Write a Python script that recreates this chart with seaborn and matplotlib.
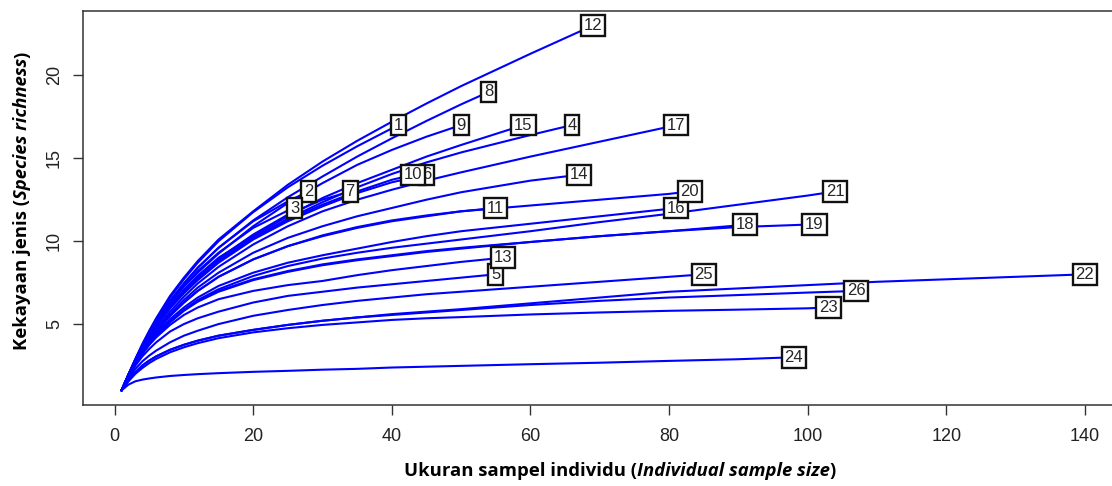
import matplotlib
matplotlib.use("Agg")
import matplotlib.pyplot as plt
import matplotlib.transforms as mtransforms
import seaborn as sns
import pandas as pd

steps = [1, 2, 3, 4, 5, 6, 8, 10, 12, 15, 20, 25, 30, 35, 40, 45, 50,
         60, 70, 80, 90, 100, 110, 120, 130, 140]

# site number and total individuals (end of each curve)
site_ids = list(range(1, 27))
site_n = [41, 28, 26, 66, 55, 45, 34, 54, 50, 43, 55, 69, 56, 67, 59,
          81, 81, 91, 101, 83, 104, 140, 103, 98, 85, 107]

# expected species richness at each step (< n) plus the end point
rich_01 = [1, 1.96, 2.88, 3.75, 4.55, 5.3, 6.6, 7.7, 8.7, 10.0, 11.75, 13.25, 14.55, 15.72, 16.8, 17]
rich_02 = [1, 1.95, 2.85, 3.7, 4.45, 5.15, 6.4, 7.45, 8.4, 9.6, 11.2, 12.4, 13]
rich_03 = [1, 1.94, 2.83, 3.65, 4.4, 5.1, 6.3, 7.3, 8.2, 9.3, 10.8, 11.85, 12]
rich_04 = [1, 1.92, 2.78, 3.55, 4.25, 4.88, 6.0, 6.95, 7.8, 8.85, 10.2, 11.35, 12.35, 13.25, 14.05, 14.75, 15.35, 16.4, 17]
rich_05 = [1, 1.82, 2.5, 3.05, 3.5, 3.9, 4.55, 5.0, 5.35, 5.75, 6.3, 6.7, 6.95, 7.2, 7.4, 7.6, 7.8, 8]
rich_06 = [1, 1.92, 2.77, 3.54, 4.22, 4.85, 5.95, 6.85, 7.65, 8.7, 10.1, 11.2, 12.1, 12.9, 13.55, 14]
rich_07 = [1, 1.93, 2.8, 3.6, 4.3, 4.95, 6.1, 7.05, 7.9, 8.95, 10.4, 11.6, 12.5, 13]
rich_08 = [1, 1.95, 2.85, 3.7, 4.45, 5.15, 6.4, 7.45, 8.4, 9.6, 11.25, 12.65, 13.9, 15.1, 16.2, 17.25, 18.25, 19]
rich_09 = [1, 1.94, 2.82, 3.63, 4.37, 5.05, 6.25, 7.25, 8.1, 9.25, 10.9, 12.3, 13.5, 14.6, 15.5, 16.3, 17]
rich_10 = [1, 1.93, 2.78, 3.56, 4.25, 4.9, 6.0, 6.9, 7.75, 8.8, 10.2, 11.3, 12.2, 13.0, 13.7, 14]
rich_11 = [1, 1.9, 2.7, 3.4, 4.0, 4.55, 5.5, 6.3, 7.0, 7.85, 8.9, 9.7, 10.3, 10.8, 11.2, 11.5, 11.8, 12]
rich_12 = [1, 1.97, 2.9, 3.8, 4.6, 5.35, 6.7, 7.8, 8.8, 10.1, 11.8, 13.4, 14.8, 16.05, 17.2, 18.3, 19.35, 21.3, 23]
rich_13 = [1, 1.85, 2.6, 3.22, 3.75, 4.2, 4.95, 5.55, 6.0, 6.5, 7.0, 7.35, 7.6, 7.95, 8.25, 8.5, 8.75, 9]
rich_14 = [1, 1.9, 2.7, 3.4, 4.02, 4.6, 5.6, 6.45, 7.2, 8.1, 9.3, 10.2, 10.9, 11.5, 12.0, 12.5, 12.95, 13.65, 14]
rich_15 = [1, 1.93, 2.8, 3.6, 4.3, 4.95, 6.1, 7.05, 7.9, 9.0, 10.3, 11.5, 12.6, 13.5, 14.3, 15.1, 15.8, 17]
rich_16 = [1, 1.88, 2.65, 3.32, 3.9, 4.42, 5.3, 6.0, 6.6, 7.3, 8.1, 8.7, 9.15, 9.55, 9.95, 10.3, 10.6, 11.05, 11.5, 11.95, 12]
rich_17 = [1, 1.9, 2.72, 3.45, 4.1, 4.7, 5.75, 6.65, 7.45, 8.45, 9.8, 10.9, 11.8, 12.5, 13.1, 13.65, 14.15, 15.1, 16.0, 16.9, 17]
rich_18 = [1, 1.86, 2.6, 3.25, 3.8, 4.3, 5.15, 5.85, 6.4, 7.0, 7.7, 8.2, 8.6, 8.9, 9.15, 9.4, 9.6, 9.95, 10.3, 10.6, 10.95, 11]
rich_19 = [1, 1.85, 2.58, 3.22, 3.77, 4.25, 5.1, 5.8, 6.35, 6.95, 7.65, 8.15, 8.55, 8.85, 9.1, 9.35, 9.55, 9.95, 10.3, 10.6, 10.85, 11, 11]
rich_20 = [1, 1.9, 2.7, 3.4, 4.0, 4.55, 5.5, 6.3, 7.0, 7.85, 8.9, 9.7, 10.35, 10.85, 11.25, 11.55, 11.8, 12.15, 12.5, 12.85, 13]
rich_21 = [1, 1.85, 2.6, 3.25, 3.8, 4.3, 5.15, 5.85, 6.45, 7.1, 7.9, 8.5, 8.95, 9.3, 9.6, 9.85, 10.1, 10.6, 11.15, 11.65, 12.2, 12.75, 13]
rich_22 = [1, 1.6, 2.1, 2.5, 2.8, 3.05, 3.45, 3.75, 4.0, 4.3, 4.65, 4.95, 5.2, 5.4, 5.6, 5.75, 5.9, 6.25, 6.6, 6.95, 7.15, 7.35, 7.55, 7.7, 7.85, 8.0]
rich_23 = [1, 1.55, 2.0, 2.35, 2.65, 2.9, 3.3, 3.6, 3.85, 4.15, 4.5, 4.75, 4.95, 5.1, 5.25, 5.35, 5.42, 5.58, 5.7, 5.8, 5.87, 5.95, 6]
rich_24 = [1, 1.35, 1.55, 1.65, 1.72, 1.78, 1.87, 1.93, 1.98, 2.04, 2.12, 2.18, 2.25, 2.3, 2.38, 2.43, 2.48, 2.58, 2.67, 2.78, 2.88, 3]
rich_25 = [1, 1.7, 2.3, 2.75, 3.1, 3.4, 3.9, 4.3, 4.6, 5.0, 5.5, 5.85, 6.15, 6.4, 6.6, 6.8, 6.95, 7.25, 7.55, 7.85, 8]
rich_26 = [1, 1.6, 2.1, 2.5, 2.8, 3.05, 3.45, 3.75, 4.0, 4.3, 4.65, 4.95, 5.2, 5.4, 5.55, 5.7, 5.85, 6.15, 6.4, 6.6, 6.75, 6.9, 7]

richness = [rich_01, rich_02, rich_03, rich_04, rich_05, rich_06, rich_07,
            rich_08, rich_09, rich_10, rich_11, rich_12, rich_13, rich_14,
            rich_15, rich_16, rich_17, rich_18, rich_19, rich_20, rich_21,
            rich_22, rich_23, rich_24, rich_25, rich_26]

rows = []
for sid, n, vals in zip(site_ids, site_n, richness):
    xs = [s for s in steps if s < n] + [n]
    for x, y in zip(xs, vals):
        rows.append({"site": sid, "size": x, "richness": y})
df = pd.DataFrame(rows)

sns.set_style("white")
plt.rcParams["font.family"] = ["Liberation Sans", "DejaVu Sans"]

fig = plt.figure(figsize=(11.12, 4.86), dpi=100)
fig.patch.set_facecolor("white")
# the original is cropped on the right: let the box run well past the edge,
# keeping 6.93 px per individual
px_per_unit = 6.93
right_px = 1200
ax = fig.add_axes([83 / 1112, 81 / 486, (right_px - 83) / 1112, 394 / 486])

sns.lineplot(data=df, x="size", y="richness", units="site", estimator=None,
             color="#0000ff", lw=1.5, legend=False, ax=ax, zorder=2)

# site labels at the curve ends
for sid, n, vals in zip(site_ids, site_n, richness):
    ax.text(n, vals[-1], str(sid), ha="center", va="center", fontsize=12,
            zorder=3 + sid,
            bbox=dict(boxstyle="square,pad=0.17", fc="white", ec="#111111", lw=1.7))

x_left = -4.56
ax.set_xlim(x_left, x_left + (right_px - 83) / px_per_unit)
ax.set_ylim(0.12, 23.88)
ax.set_xticks([0, 20, 40, 60, 80, 100, 120, 140])
ax.set_yticks([5, 10, 15, 20])
ax.set_xlabel("")
ax.set_ylabel("")
for sp in ax.spines.values():
    sp.set_visible(True)
    sp.set_color("#333333")
    sp.set_linewidth(1.1)
ax.spines["right"].set_visible(False)
ax.tick_params(axis="both", which="major", direction="out", length=7.5,
               width=1.0, color="#333333", labelsize=13, labelcolor="#222222",
               bottom=True, left=True)
ax.tick_params(axis="x", pad=9)
ax.tick_params(axis="y", pad=7)
for lab in ax.get_yticklabels():
    lab.set_rotation(90)
    lab.set_va("center")

# axis titles with a bold italic part
renderer = fig.canvas.get_renderer()
ident = mtransforms.IdentityTransform()
title_size = 13.3


def mixed_label(parts, x0, y0, rotation):
    pos = 0.0
    for txt, style in parts:
        if rotation == 0:
            xy = (x0 + pos, y0)
        else:
            xy = (x0, y0 + pos)
        t = fig.text(xy[0], xy[1], txt, transform=ident, family="Open Sans",
                     fontweight="bold", fontstyle=style, fontsize=title_size,
                     ha="left", va="baseline", rotation=rotation,
                     rotation_mode="anchor", color="black")
        bb = t.get_window_extent(renderer)
        pos += bb.width if rotation == 0 else bb.height
    return pos


def text_width(parts):
    tmp = [fig.text(0, 0, t, family="Open Sans", fontweight="bold",
                    fontstyle=s, fontsize=title_size) for t, s in parts]
    w = sum(t.get_window_extent(renderer).width for t in tmp)
    for t in tmp:
        t.remove()
    return w


xparts = [("Ukuran sampel individu (", "normal"),
          ("Individual sample size", "italic"),
          (")", "normal")]
yparts = [("Kekayaan jenis (", "normal"),
          ("Species richness", "italic"),
          (")", "normal")]

mixed_label(xparts, 620 - text_width(xparts) / 2, 486 - 476, 0)
mixed_label(yparts, 27, (486 - 201) - text_width(yparts) / 2, 90)

fig.savefig("out.png", dpi=100, facecolor="white")
